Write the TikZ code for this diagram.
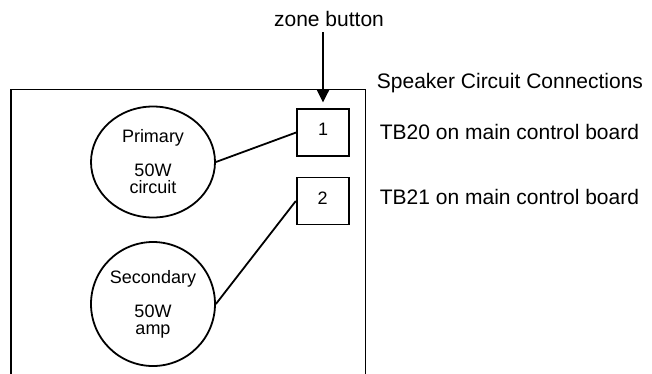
\documentclass[tikz,border=0pt]{standalone}
\usepackage{fontspec}
\setmainfont{Liberation Sans}
\usetikzlibrary{shapes.geometric,arrows.meta}
\begin{document}
\begin{tikzpicture}[x=1pt,y=-1pt,line width=1.8pt,
  lbl/.style={font=\fontsize{21}{25}\selectfont,inner sep=0},
  ampnode/.style={draw,ellipse,inner sep=0,align=center,font=\fontsize{18}{17}\selectfont},
  tbox/.style={draw,minimum width=52pt,minimum height=47pt,inner sep=0},
  numtxt/.style={font=\fontsize{18}{20}\selectfont,yshift=3pt}]
\useasboundingbox (0,0) rectangle (652,373);
\clip (0,0) rectangle (652,373);
\draw (11,380) -- (11,89.5) -- (365.5,89.5) -- (365.5,380);
\node[ampnode,minimum width=124pt,minimum height=111pt] (prim) at (153,162) {Primary\\[17pt]50W\\circuit};
\node[ampnode,minimum width=124pt,minimum height=124pt] (sec) at (153,304) {Secondary\\[17pt]50W\\amp};
\node[tbox,label={[numtxt]center:1}] (b1) at (323,132.5) {};
\node[tbox,label={[numtxt]center:2}] (b2) at (322.7,201) {};
\node[lbl,anchor=base west] (title) at (376,88) {Speaker Circuit Connections};
\node[lbl,anchor=base west] (tb20) at (379,139) {TB20 on main control board};
\node[lbl,anchor=base west] (tb21) at (379,204) {TB21 on main control board};
\node[lbl,anchor=base] (zone) at (329,26) {zone button};
\coordinate (zt) at (323,32);
\coordinate (zb) at (323,102.5);
\draw[-{Triangle[width=12pt,length=12.5pt]}] (zt) -- (zb);
\draw (prim.east) -- (b1.west);
\draw (sec.east) -- (b2.west);
\end{tikzpicture}
\end{document}
